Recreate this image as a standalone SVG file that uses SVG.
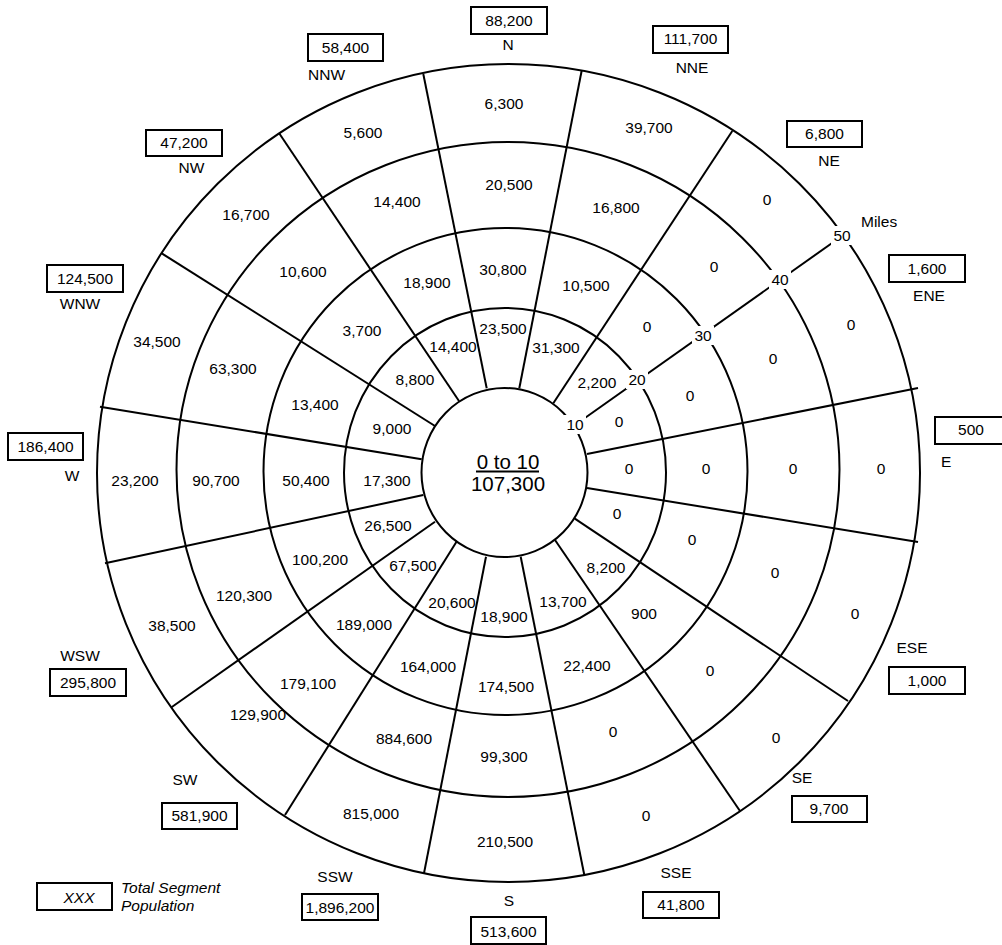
<svg xmlns="http://www.w3.org/2000/svg" width="1002" height="945" viewBox="0 0 1002 945">
<style>
text{font-family:"Liberation Sans",Arial,sans-serif;font-size:15.5px;fill:#000;text-anchor:middle}
.ring{fill:none;stroke:#000;stroke-width:2}
.ln{stroke:#000;stroke-width:2;fill:none}
.box{fill:#fff;stroke:#000;stroke-width:2}
.mask{fill:#fff;stroke:none}
.it{font-style:italic}
.st{text-anchor:start}
.big{font-size:20.5px}
</style>
<rect width="1002" height="945" fill="#fff"/>
<g id="rings">
<ellipse class="ring" cx="508.5" cy="473" rx="411.5" ry="409"/>
<ellipse class="ring" cx="508" cy="469.5" rx="331.5" ry="327.5"/>
<ellipse class="ring" cx="505.5" cy="471.5" rx="242" ry="243.5"/>
<ellipse class="ring" cx="505" cy="472.5" rx="161" ry="164.5"/>
<ellipse class="ring" cx="504.5" cy="472.5" rx="83" ry="84.5"/>
</g>
<g id="connectors">
<line class="ln" x1="519.3" y1="388.3" x2="581.7" y2="70.5"/>
<line class="ln" x1="553.3" y1="403.3" x2="732.3" y2="131"/>
<line class="ln" x1="587" y1="454" x2="918" y2="388"/>
<line class="ln" x1="587" y1="488" x2="918" y2="542"/>
<line class="ln" x1="574.8" y1="518.7" x2="848" y2="701"/>
<line class="ln" x1="555" y1="540" x2="740" y2="811"/>
<line class="ln" x1="520.7" y1="556.7" x2="584.3" y2="875"/>
<line class="ln" x1="486" y1="556.7" x2="424" y2="873.3"/>
<line class="ln" x1="457" y1="541" x2="285" y2="815"/>
<line class="ln" x1="435" y1="521.7" x2="171.5" y2="707.3"/>
<line class="ln" x1="423.3" y1="495" x2="105" y2="563.3"/>
<line class="ln" x1="421.7" y1="459.3" x2="100" y2="406.7"/>
<line class="ln" x1="435" y1="426" x2="161.7" y2="253.3"/>
<line class="ln" x1="459" y1="401" x2="279" y2="133"/>
<line class="ln" x1="486.7" y1="388.3" x2="423.3" y2="74"/>
<line class="ln" x1="575" y1="425" x2="842" y2="236"/>
</g>
<g id="scale">
<rect class="mask" x="564" y="415" width="22" height="19"/>
<text x="575" y="430">10</text>
<rect class="mask" x="626" y="370" width="22" height="19"/>
<text x="637" y="385">20</text>
<rect class="mask" x="692" y="326" width="22" height="19"/>
<text x="703" y="341">30</text>
<rect class="mask" x="769" y="270" width="22" height="19"/>
<text x="780" y="285">40</text>
<rect class="mask" x="831" y="226" width="22" height="19"/>
<text x="842" y="241">50</text>
<text class="st" x="861" y="227">Miles</text>
</g>
<g id="center">
<text class="big" x="508" y="469">0 to 10</text>
<line class="ln" x1="476" y1="471.5" x2="539" y2="471.5"/>
<text class="big" x="508" y="491">107,300</text>
</g>
<g id="sector-N">
<text x="504" y="109">6,300</text><text x="509" y="190">20,500</text><text x="503" y="275">30,800</text><text x="503" y="334">23,500</text>
<rect class="box" x="471" y="7" width="76" height="27"/><text x="509" y="26">88,200</text><text x="508" y="50">N</text>
</g>
<g id="sector-NNE">
<text x="649" y="133">39,700</text><text x="616" y="213">16,800</text><text x="586" y="291">10,500</text><text x="556" y="353">31,300</text>
<rect class="box" x="653" y="26" width="75" height="27"/><text x="690.5" y="44">111,700</text><text x="692" y="73">NNE</text>
</g>
<g id="sector-NE">
<text x="767" y="205">0</text><text x="714" y="272">0</text><text x="647" y="332">0</text><text x="597" y="388">2,200</text>
<rect class="box" x="787" y="121" width="75" height="26"/><text x="824.5" y="139">6,800</text><text x="829" y="166">NE</text>
</g>
<g id="sector-ENE">
<text x="851" y="330">0</text><text x="773" y="364">0</text><text x="690" y="401">0</text><text x="619" y="427">0</text>
<rect class="box" x="889" y="255" width="76" height="27"/><text x="927" y="274">1,600</text><text x="929" y="301">ENE</text>
</g>
<g id="sector-E">
<text x="629" y="474">0</text><text x="706" y="474">0</text><text x="793" y="474">0</text><text x="881" y="474">0</text>
<rect class="box" x="935" y="417" width="76" height="27"/><text x="971" y="435">500</text><text class="st" x="941" y="467">E</text>
</g>
<g id="sector-ESE">
<text x="617" y="519">0</text><text x="692" y="545">0</text><text x="775" y="578">0</text><text x="855" y="619">0</text>
<rect class="box" x="889" y="667" width="76" height="27"/><text x="927" y="686">1,000</text><text x="912" y="653">ESE</text>
</g>
<g id="sector-SE">
<text x="606" y="573">8,200</text><text x="644" y="619">900</text><text x="710" y="676">0</text><text x="776" y="743">0</text>
<rect class="box" x="792" y="796" width="75" height="26"/><text x="829" y="814">9,700</text><text x="802" y="783">SE</text>
</g>
<g id="sector-SSE">
<text x="563" y="607">13,700</text><text x="587" y="671">22,400</text><text x="613" y="737">0</text><text x="646" y="821">0</text>
<rect class="box" x="643" y="892" width="76" height="26"/><text x="681" y="910">41,800</text><text x="676" y="878">SSE</text>
</g>
<g id="sector-S">
<text x="504" y="622">18,900</text><text x="506" y="692">174,500</text><text x="504" y="762">99,300</text><text x="505" y="847">210,500</text>
<rect class="box" x="471" y="917" width="75" height="27"/><text x="508.5" y="937">513,600</text><text x="509" y="906">S</text>
</g>
<g id="sector-SSW">
<text x="452" y="608">20,600</text><text x="428" y="672">164,000</text><text x="404" y="744">884,600</text><text x="371" y="819">815,000</text>
<rect class="box" x="302" y="894" width="76" height="26"/><text x="340" y="913">1,896,200</text><text x="335" y="882">SSW</text>
</g>
<g id="sector-SW">
<text x="413" y="571">67,500</text><text x="364" y="630">189,000</text><text x="308" y="689">179,100</text><text x="258" y="720">129,900</text>
<rect class="box" x="162" y="803" width="75" height="26"/><text x="199.5" y="821">581,900</text><text x="185" y="785">SW</text>
</g>
<g id="sector-WSW">
<text x="388" y="531">26,500</text><text x="320" y="565">100,200</text><text x="244" y="601">120,300</text><text x="172" y="631">38,500</text>
<rect class="box" x="50" y="669" width="76" height="27"/><text x="88" y="688">295,800</text><text x="80" y="661">WSW</text>
</g>
<g id="sector-W">
<text x="387" y="486">17,300</text><text x="306" y="486">50,400</text><text x="216" y="486">90,700</text><text x="135" y="486">23,200</text>
<rect class="box" x="8" y="433" width="75" height="27"/><text x="45.5" y="452">186,400</text><text x="72" y="481">W</text>
</g>
<g id="sector-WNW">
<text x="392" y="434">9,000</text><text x="315" y="410">13,400</text><text x="233" y="374">63,300</text><text x="157" y="347">34,500</text>
<rect class="box" x="47" y="265" width="76" height="27"/><text x="85" y="284">124,500</text><text x="80" y="309">WNW</text>
</g>
<g id="sector-NW">
<text x="415" y="385">8,800</text><text x="362" y="336">3,700</text><text x="303" y="277">10,600</text><text x="246" y="220">16,700</text>
<rect class="box" x="146" y="130" width="76" height="26"/><text x="184" y="148">47,200</text><text x="191.5" y="173">NW</text>
</g>
<g id="sector-NNW">
<text x="453" y="352">14,400</text><text x="427" y="288">18,900</text><text x="397" y="207">14,400</text><text x="363" y="138">5,600</text>
<rect class="box" x="308" y="34" width="75" height="27"/><text x="345.5" y="53">58,400</text><text class="st" x="308" y="80">NNW</text>
</g>
<g id="legend">
<rect class="box" x="37" y="883" width="75" height="27"/>
<text class="it" x="79" y="903">XXX</text>
<text class="it st" x="121" y="893">Total Segment</text>
<text class="it st" x="121" y="911">Population</text>
</g>
</svg>
